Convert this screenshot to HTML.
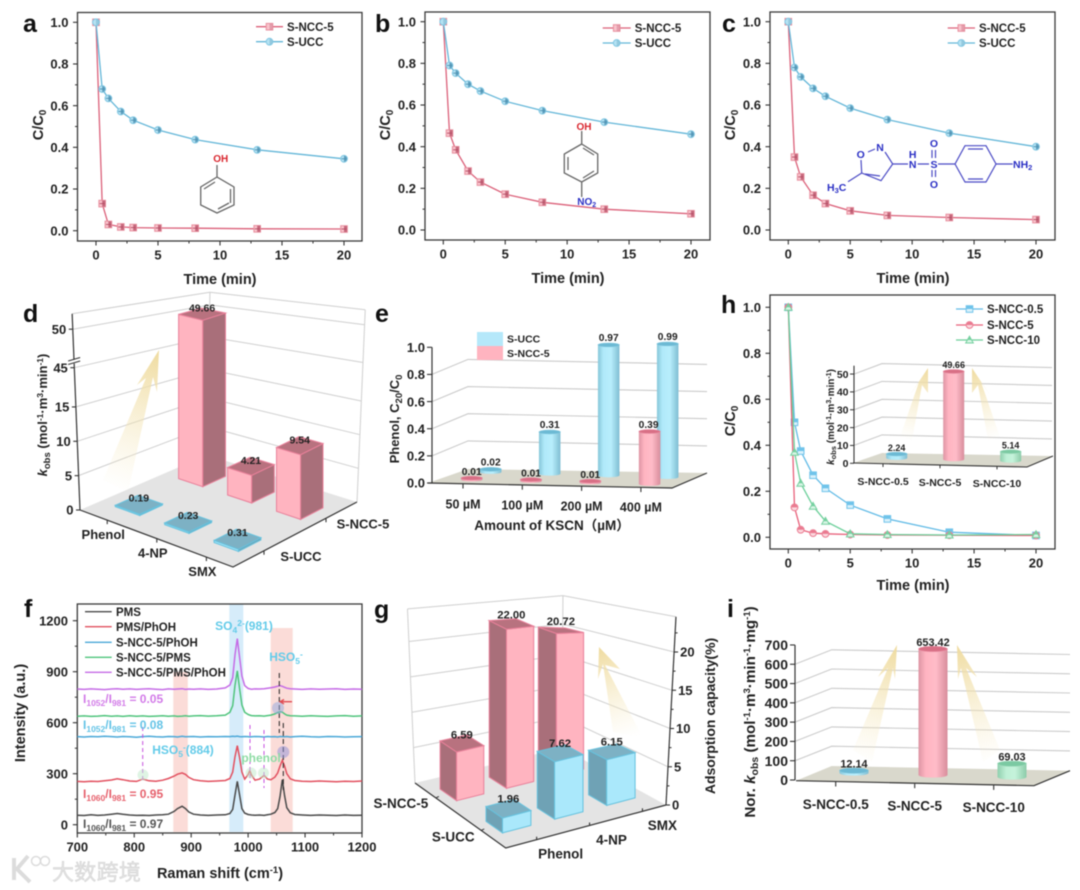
<!DOCTYPE html>
<html lang="en"><head><meta charset="utf-8"><title>Catalytic degradation figure panels a-i</title>
<style>
html,body{margin:0;padding:0;background:#fff;width:1080px;height:890px;overflow:hidden}
svg{display:block;filter:blur(.5px);font-family:"Liberation Sans","Noto Sans CJK SC",sans-serif;font-weight:bold;fill:#222}
</style></head>
<body>
<svg id="figure" xmlns="http://www.w3.org/2000/svg" width="1080" height="890" viewBox="0 0 1080 890">
<defs>
<linearGradient id="gd" gradientUnits="userSpaceOnUse" x1="159" y1="350" x2="112" y2="490"><stop offset="0" stop-color="#efdb9f"/><stop offset="1" stop-color="#f7ecc8" stop-opacity="0"/></linearGradient>
<linearGradient id="gg" gradientUnits="userSpaceOnUse" x1="599" y1="647" x2="630" y2="738"><stop offset="0" stop-color="#efdb9f"/><stop offset="1" stop-color="#f7ecc8" stop-opacity="0"/></linearGradient>
<linearGradient id="gh1" gradientUnits="userSpaceOnUse" x1="928" y1="368" x2="905" y2="440"><stop offset="0" stop-color="#efdb9f"/><stop offset="1" stop-color="#f7ecc8" stop-opacity="0"/></linearGradient>
<linearGradient id="gh2" gradientUnits="userSpaceOnUse" x1="972" y1="368" x2="995" y2="440"><stop offset="0" stop-color="#efdb9f"/><stop offset="1" stop-color="#f7ecc8" stop-opacity="0"/></linearGradient>
<linearGradient id="gi1" gradientUnits="userSpaceOnUse" x1="897" y1="645" x2="862" y2="765"><stop offset="0" stop-color="#efdb9f"/><stop offset="1" stop-color="#f7ecc8" stop-opacity="0"/></linearGradient>
<linearGradient id="gi2" gradientUnits="userSpaceOnUse" x1="957" y1="645" x2="992" y2="765"><stop offset="0" stop-color="#efdb9f"/><stop offset="1" stop-color="#f7ecc8" stop-opacity="0"/></linearGradient>
<linearGradient id="cyl-pink"><stop offset="0" stop-color="#dd95a4"/><stop offset=".25" stop-color="#ffb4c1"/><stop offset=".6" stop-color="#ffbcc8"/><stop offset="1" stop-color="#d88d9c"/></linearGradient>
<linearGradient id="cyl-blue"><stop offset="0" stop-color="#86c6da"/><stop offset=".25" stop-color="#b0e9fa"/><stop offset=".6" stop-color="#b8eefc"/><stop offset="1" stop-color="#7fbdd2"/></linearGradient>
<linearGradient id="cyl-green"><stop offset="0" stop-color="#90cfae"/><stop offset=".3" stop-color="#bff0d6"/><stop offset=".6" stop-color="#c5f3db"/><stop offset="1" stop-color="#8ccba9"/></linearGradient>
</defs>

<g id="under"></g>

<polygon fill="url(#gd)" points="159,350 157,392 153,377 128,492 103,480 146,378 137,385"/>
<polygon fill="url(#gg)" points="599,647 620,669 605,665 643,738 613,732 603,664 598,679"/>
<polygon fill="url(#gh1)" points="928,368 928,393 922,385 912,440 900,437 919,382 910,395"/>
<polygon fill="url(#gh2)" points="972,368 990,395 981,382 1000,437 988,440 978,385 972,393"/>
<polygon fill="url(#gi1)" points="897,645 895,679 893,668 872,762 853,750 888,668 878,677"/>
<polygon fill="url(#gi2)" points="957,645 977,677 966,668 1000,750 983,762 961,668 958,679"/>

<g id="over"></g>

<!-- panel letters -->
<g font-size="25" fill="#111">
<text x="23" y="32">a</text>
<text x="375" y="32">b</text>
<text x="722" y="32">c</text>
<text x="23" y="322">d</text>
<text x="375" y="322">e</text>
<text x="24" y="617">f</text>
<text x="374" y="618">g</text>
<text x="721" y="313">h</text>
<text x="727" y="617">i</text>
</g>

<!-- axis titles -->
<g font-size="14.5" text-anchor="middle" fill="#222">
<text x="220" y="284">Time (min)</text>
<text x="568" y="283">Time (min)</text>
<text x="913" y="283">Time (min)</text>
<text x="913" y="590">Time (min)</text>
<text transform="translate(43 125) rotate(-90)">C/C<tspan font-size="10" dy="3">0</tspan></text>
<text transform="translate(390 125) rotate(-90)">C/C<tspan font-size="10" dy="3">0</tspan></text>
<text transform="translate(735 125) rotate(-90)">C/C<tspan font-size="10" dy="3">0</tspan></text>
<text transform="translate(735 421) rotate(-90)">C/C<tspan font-size="10" dy="3">0</tspan></text>
<text x="220" y="878">Raman shift (cm<tspan font-size="9.5" dy="-5">-1</tspan><tspan dy="5">)</tspan></text>
<text transform="translate(25 713) rotate(-90)">Intensity (a.u.)</text>
<text transform="translate(47 415) rotate(-90)" font-size="13"><tspan font-style="italic">k</tspan><tspan font-size="9.5" dy="3">obs</tspan><tspan dy="-3"> (mol</tspan><tspan font-size="8.5" dy="-4">-1</tspan><tspan dy="4">·m</tspan><tspan font-size="8.5" dy="-4">3</tspan><tspan dy="4">·min</tspan><tspan font-size="8.5" dy="-4">-1</tspan><tspan dy="4">)</tspan></text>
<text transform="translate(399 419) rotate(-90)" font-size="13">Phenol, C<tspan font-size="9.5" dy="3">20</tspan><tspan dy="-3">/C</tspan><tspan font-size="9.5" dy="3">0</tspan></text>
<text x="552" y="530" font-size="13.5">Amount of KSCN（µM）</text>
<text transform="translate(715 716) rotate(-90)" font-size="14">Adsorption capacity(%)</text>
<text transform="translate(755 712) rotate(-90)" font-size="15.2">Nor. <tspan font-style="italic">k</tspan><tspan font-size="10.5" dy="3">obs</tspan><tspan dy="-3"> (mol</tspan><tspan font-size="9.5" dy="-5">-1</tspan><tspan dy="5">·m</tspan><tspan font-size="9.5" dy="-5">3</tspan><tspan dy="5">·min</tspan><tspan font-size="9.5" dy="-5">-1</tspan><tspan dy="5">·mg</tspan><tspan font-size="9.5" dy="-5">-1</tspan><tspan dy="5">)</tspan></text>
<text transform="translate(834 417) rotate(-90)" font-size="10"><tspan font-style="italic">k</tspan><tspan font-size="7.5" dy="2">obs</tspan><tspan dy="-2"> (mol</tspan><tspan font-size="7" dy="-3">-1</tspan><tspan dy="3">·m</tspan><tspan font-size="7" dy="-3">3</tspan><tspan dy="3">·min</tspan><tspan font-size="7" dy="-3">-1</tspan><tspan dy="3">)</tspan></text>
</g>

<!-- panel f annotations -->
<g>
<g stroke-width="1" fill="none">
<line x1="142.7" y1="727" x2="142.7" y2="780" stroke="#c74fe0" stroke-dasharray="4 3"/>
<line x1="250" y1="725" x2="250" y2="783" stroke="#c74fe0" stroke-dasharray="4 3"/>
<line x1="264" y1="730" x2="264" y2="788" stroke="#c74fe0" stroke-dasharray="4 3"/>
<line x1="279.3" y1="673" x2="279.3" y2="733" stroke="#222" stroke-dasharray="5 3"/>
<line x1="283.3" y1="723" x2="283.3" y2="790" stroke="#222" stroke-dasharray="5 3"/>
<path d="M292 701.7H281M284 699.5l-4 2.2 4 2.2" stroke="#e04a52" stroke-width="1.3"/>
</g>
<circle cx="278" cy="708" r="6" fill="#8fa8df" fill-opacity=".5"/>
<circle cx="283.3" cy="752" r="6" fill="#8d90d8" fill-opacity=".5"/>
<circle cx="143" cy="775" r="5.5" fill="#bfe9c9" fill-opacity=".5"/>
<circle cx="251" cy="773" r="5.5" fill="#bfe9c9" fill-opacity=".5"/>
<circle cx="263.5" cy="773" r="5.5" fill="#bfe9c9" fill-opacity=".5"/>
<text x="244" y="630" text-anchor="middle" font-size="12" fill="#63cbe9">SO<tspan font-size="8.5" dy="3">4</tspan><tspan font-size="8.5" dy="-7">2-</tspan><tspan dy="4">(981)</tspan></text>
<text x="286" y="661" text-anchor="middle" font-size="12" fill="#63cbe9">HSO<tspan font-size="8.5" dy="3">5</tspan><tspan font-size="8.5" dy="-7">-</tspan></text>
<text x="183" y="754" text-anchor="middle" font-size="12" fill="#63cbe9">HSO<tspan font-size="8.5" dy="3">5</tspan><tspan font-size="8.5" dy="-7">-</tspan><tspan dy="4">(884)</tspan></text>
<text x="261" y="762" text-anchor="middle" font-size="12" fill="#8fdca5">phenol</text>
<g font-size="12">
<text x="83" y="703" fill="#d27ae8">I<tspan font-size="8.5" dy="3">1052</tspan><tspan dy="-3">/I</tspan><tspan font-size="8.5" dy="3">981</tspan><tspan dy="-3"> = 0.05</tspan></text>
<text x="83" y="729" fill="#63c3e6">I<tspan font-size="8.5" dy="3">1052</tspan><tspan dy="-3">/I</tspan><tspan font-size="8.5" dy="3">981</tspan><tspan dy="-3"> = 0.08</tspan></text>
<text x="83" y="798" fill="#e6606c">I<tspan font-size="8.5" dy="3">1060</tspan><tspan dy="-3">/I</tspan><tspan font-size="8.5" dy="3">981</tspan><tspan dy="-3"> = 0.95</tspan></text>
<text x="83" y="828" fill="#555">I<tspan font-size="8.5" dy="3">1060</tspan><tspan dy="-3">/I</tspan><tspan font-size="8.5" dy="3">981</tspan><tspan dy="-3"> = 0.97</tspan></text>
</g>
</g>

<!-- molecules -->
<g fill="none" stroke="#666" stroke-width="1.3">
<path d="M217 165V177L234 187V205L217 213L200.7 205V187L217 177M230.5 189V203M218 209L229 203M204 189L215 182"/>
<text x="220.7" y="162" text-anchor="middle" font-size="10" fill="#d9262e" stroke="none">OH</text>
</g>
<g fill="none" stroke="#666" stroke-width="1.3">
<path d="M581.7 131V144L597.7 154V173L581.7 182L564.3 173V154L581.7 144M568 157V170M583 148L594 155M583 178L594 171M581.7 182V197"/>
<text x="584" y="130" text-anchor="middle" font-size="10" fill="#d9262e" stroke="none">OH</text>
<text x="586.7" y="205" text-anchor="middle" font-size="10" fill="#2a2fc4" stroke="none">NO<tspan font-size="7" dy="2">2</tspan></text>
</g>
<g fill="none" stroke="#4a4ac4" stroke-width="1.2">
<path d="M861 160L861.7 173L881 180.7L892.7 164L885 152M865 174L880 176M848 181.7L861.7 173M892.7 164H908M917.7 164H929M938 164H955L965 145.7H986L996 164L986 182H965L955 164M968 149H983M968 179H983M996 164H1012.7M932 150V158M935.5 150V158M932 170V177M935.5 170V177M868 152L875 149"/>
<g font-size="10.5" fill="#2a2fc4" stroke="none">
<text x="860.7" y="158" text-anchor="middle">O</text>
<text x="880" y="151" text-anchor="middle">N</text>
<text x="912.7" y="158" text-anchor="middle">H</text>
<text x="912.7" y="168" text-anchor="middle">N</text>
<text x="934" y="168" text-anchor="middle">S</text>
<text x="934" y="147" text-anchor="middle">O</text>
<text x="934" y="188" text-anchor="middle">O</text>
<text x="1013" y="168">NH<tspan font-size="7.5" dy="2">2</tspan></text>
<text x="827" y="191">H<tspan font-size="7.5" dy="2">3</tspan><tspan dy="-2">C</tspan></text>
</g>
</g>

<!-- watermark -->
<g>
<path d="M14 858V880M28 856L17 869L30 882" fill="none" stroke="#dcdcdc" stroke-width="4"/>
<circle cx="36" cy="861" r="4.5" fill="none" stroke="#dcdcdc" stroke-width="1.5"/>
<circle cx="45" cy="861" r="4.5" fill="none" stroke="#dcdcdc" stroke-width="1.5"/>
<text x="52" y="880" font-size="22" font-weight="normal" fill="#e2e2e2" letter-spacing=".3" stroke="#cfcfcf" stroke-width=".4">大数跨境</text>
</g>

<script>
/* ---------- time-course data (panels a, b, c, h) ---------- */
const timeMin = [0, 0.5, 1, 2, 3, 5, 8, 13, 20];
const timeTicks = [0, 5, 10, 15, 20];
const ratioTicks = [0, 0.2, 0.4, 0.6, 0.8, 1];
const aNcc5 = [1, 0.13, 0.03, 0.018, 0.015, 0.013, 0.012, 0.009, 0.008];
const aUcc = [1, 0.68, 0.635, 0.572, 0.53, 0.483, 0.437, 0.388, 0.345];
const bNcc5 = [1, 0.465, 0.385, 0.283, 0.23, 0.172, 0.133, 0.1, 0.078];
const bUcc = [1, 0.79, 0.753, 0.7, 0.667, 0.618, 0.573, 0.518, 0.46];
const cNcc5 = [1, 0.35, 0.255, 0.167, 0.127, 0.092, 0.07, 0.06, 0.05];
const cUcc = [1, 0.78, 0.735, 0.68, 0.642, 0.585, 0.53, 0.465, 0.4];
const hNcc05 = [1, 0.5, 0.375, 0.27, 0.213, 0.14, 0.08, 0.022, 0.008];
const hNcc5 = [1, 0.13, 0.033, 0.018, 0.015, 0.012, 0.01, 0.009, 0.008];
const hNcc10 = [1, 0.37, 0.235, 0.135, 0.07, 0.015, 0.012, 0.01, 0.012];

/* ---------- Raman data (panel f) ---------- */
const ramanShift = [700,712,724,736,748,760,770,780,792,804,815,826,838,850,860,870,876,884,890,896,904,916,930,945,960,968,973,977,981,985,989,994,1000,1003,1006,1012,1020,1028,1034,1040,1047,1052,1056,1060,1064,1068,1074,1082,1095,1110,1125,1140,1155,1170,1185,1200];
const ramanPms = [56,54,58,55,57,62,66,61,57,55,56,54,57,58,62,78,95,108,95,75,62,57,55,57,58,66,90,175,255,175,95,68,60,58,57,56,57,55,58,62,72,95,165,265,170,100,70,60,57,55,57,56,54,57,55,56];
const ramanPmsPhoh = [255,253,256,254,258,263,270,265,257,255,268,258,256,262,272,286,297,305,296,278,265,258,255,257,260,272,310,400,465,395,310,268,295,318,292,262,268,290,268,265,280,305,345,378,345,300,270,260,256,254,257,255,253,256,254,257];
const ramanNccPhoh = [518,516,519,517,520,518,516,519,517,515,518,520,517,516,519,518,516,520,517,518,519,516,518,517,519,518,520,519,521,518,517,519,518,516,517,519,518,516,519,517,518,516,519,518,517,519,516,518,520,517,516,519,518,516,517,518];
const ramanNccPms = [638,640,637,639,642,638,640,637,641,638,640,637,639,641,638,640,637,639,641,638,640,642,639,641,645,662,700,820,905,800,705,662,648,645,642,640,641,639,642,645,652,660,665,662,652,645,641,640,638,641,639,637,640,642,638,640];
const ramanNccPmsPhoh = [798,796,799,797,795,798,800,797,799,796,798,800,797,795,799,797,798,800,796,798,797,799,796,798,805,822,865,1000,1095,985,875,818,802,799,797,799,798,800,803,806,810,815,818,814,808,803,800,798,796,799,797,798,800,796,798,797];
const ramanXTicks = [700, 800, 900, 1000, 1100, 1200];
const ramanYTicks = [0, 300, 600, 900, 1200];

/* ---------- 3D bars ---------- */
const dCategories = ['Phenol', '4-NP', 'SMX'];
const dSeries = ['S-UCC', 'S-NCC-5'];
const dUcc = [0.19, 0.23, 0.31];
const dNcc5 = [49.66, 4.21, 9.54];
const dTicks = [0, 5, 10, 15, 45, 50];

const gCategories = ['Phenol', '4-NP', 'SMX'];
const gUcc = [1.96, 7.62, 6.15];
const gNcc5 = [6.59, 22.0, 20.72];
const gTicks = [0, 5, 10, 15, 20];

const eCategories = ['50 µM', '100 µM', '200 µM', '400 µM'];
const eUcc = [0.02, 0.31, 0.97, 0.99];
const eNcc5 = [0.01, 0.01, 0.01, 0.39];
const eTicks = [0, 0.2, 0.4, 0.6, 0.8, 1];

const insetCategories = ['S-NCC-0.5', 'S-NCC-5', 'S-NCC-10'];
const insetValues = [2.24, 49.66, 5.14];
const insetTicks = [0, 10, 20, 30, 40, 50];

const iCategories = ['S-NCC-0.5', 'S-NCC-5', 'S-NCC-10'];
const iValues = [12.14, 653.42, 69.03];
const iTicks = [0, 100, 200, 300, 400, 500, 600, 700];

/* ---------- helpers ---------- */
const NS = 'http://www.w3.org/2000/svg';
const under = document.getElementById('under');
const over = document.getElementById('over');
function mk(tag, attrs, name, parent) {
  const el = document.createElementNS(NS, tag);
  for (const k in attrs) el.setAttribute(k, attrs[k]);
  
  
  parent.appendChild(el);
  return el;
}
function txt(x, y, s, size, anchor, name, parent, fill) {
  const el = mk('text', {x: x, y: y + size * 0.36, 'font-size': size, 'text-anchor': anchor, fill: fill || '#222'}, name, parent);
  el.textContent = s;
  return el;
}
function line(x1, y1, x2, y2, stroke, w, name, parent) {
  return mk('line', {x1, y1, x2, y2, stroke, 'stroke-width': w}, name, parent);
}
const pts = a => a.map(p => p[0].toFixed(1) + ',' + p[1].toFixed(1)).join(' ');

/* ---------- markers ---------- */
const PINK = {line: '#db6079', pale: '#f9c3cc', edge: '#e8909f', dark: '#b34a62'};
const BLUE = {line: '#63b6d8', pale: '#b5e2f3', edge: '#82c8e3', dark: '#4a8fb0'};
const LBLUE = {line: '#62bbe6', pale: '#d9f1fb', edge: '#6fc3ea', dark: '#6fc3ea'};
const RED = {line: '#e8607a', pale: '#fbd8de', edge: '#ea7a90', dark: '#ea7a90'};
const GREEN = {line: '#6ccf9a', pale: '#d8f5e5', edge: '#76d0a0', dark: '#76d0a0'};

function marker(kind, x, y, pal, g, style, i) {
  if (kind === 'square') {
    mk('rect', {x: x - 3.3, y: y - 3.3, width: 6.6, height: 6.6, fill: pal.pale, stroke: pal.edge, 'stroke-width': 1}, 'square-marker', g);
    if (style === 'half') {
      mk('rect', {x: x, y: y - 3, width: 3, height: 6, fill: pal.dark, 'fill-opacity': i === 0 ? 0.3 : 0.75}, 'square-marker-half', g);
      if (i > 0) line(x - 2.5, y, x + 2.5, y, pal.dark, 0.9, 'error-bar', g);
    } else {
      mk('rect', {x: x - 3, y: y - 3, width: 6, height: 3, fill: pal.dark}, 'square-marker-half', g);
    }
  } else if (kind === 'circle') {
    mk('circle', {cx: x, cy: y, r: 3.4, fill: pal.pale, stroke: pal.edge, 'stroke-width': 1}, 'circle-marker', g);
    if (style === 'half') {
      mk('path', {d: `M${x} ${y - 3}A3 3 0 0 1 ${x} ${y + 3}Z`, fill: pal.dark, 'fill-opacity': i === 0 ? 0.3 : 0.8}, 'circle-marker-half', g);
      if (i > 0) line(x - 2.5, y, x + 2.5, y, pal.dark, 0.9, 'error-bar', g);
    } else {
      mk('path', {d: `M${x - 3} ${y}A3 3 0 0 1 ${x + 3} ${y}Z`, fill: pal.dark}, 'circle-marker-half', g);
    }
  } else {
    mk('polygon', {points: `${x},${y - 3.8} ${x + 3.8},${y + 3} ${x - 3.8},${y + 3}`, fill: pal.pale, stroke: pal.edge, 'stroke-width': 1}, 'triangle-marker', g);
    mk('polygon', {points: `${x},${y - 3.2} ${x + 1.9},${y} ${x - 1.9},${y}`, fill: pal.dark}, 'triangle-marker-top', g);
  }
}

/* ---------- 2D time panels ---------- */
function timePanel(id, box, series, legend) {
  const g = mk('g', {}, id + '-chart', under);
  const xS = v => box.x0 + (box.x20 - box.x0) * v / 20;
  const yS = v => box.y0 + (box.y1 - box.y0) * v;
  mk('rect', {x: box.l, y: box.t, width: box.r - box.l, height: box.b - box.t, fill: 'none', stroke: '#3a3a3a', 'stroke-width': 1.3}, id + '-frame', g);
  timeTicks.forEach((t, i) => {
    line(xS(t), box.b, xS(t), box.b + 4.5, '#333', 1.1, id + '-x-tick', g);
    if (i < timeTicks.length - 1) line(xS(t + 2.5), box.b, xS(t + 2.5), box.b + 2.5, '#333', 1, id + '-x-minor-tick', g);
    txt(xS(t), box.b + 14, String(t), 13, 'middle', id + '-x-tick-label', g);
  });
  ratioTicks.forEach((t, i) => {
    line(box.l - 4.5, yS(t), box.l, yS(t), '#333', 1.1, id + '-y-tick', g);
    if (i < ratioTicks.length - 1) line(box.l - 2.5, yS(t + 0.1), box.l, yS(t + 0.1), '#333', 1, id + '-y-minor-tick', g);
    txt(box.l - 9, yS(t), t.toFixed(1), 13, 'end', id + '-y-tick-label', g);
  });
  series.forEach(s => {
    const sg = mk('g', {}, id + '-series-' + s.name, g);
    mk('polyline', {points: pts(timeMin.map((t, i) => [xS(t), yS(s.values[i])])), fill: 'none', stroke: s.pal.line, 'stroke-width': 1.3}, id + '-line-' + s.name, sg);
    timeMin.forEach((t, i) => marker(s.kind, xS(t), yS(s.values[i]), s.pal, sg, s.style, i));
  });
  series.forEach((s, i) => {
    const ly = legend.ys[i];
    const lg = mk('g', {}, id + '-legend-entry-' + s.name, g);
    line(legend.x1, ly, legend.x2, ly, s.pal.line, 1.3, 'legend-line', lg);
    marker(s.kind, (legend.x1 + legend.x2) / 2, ly, s.pal, lg, s.style, 0);
    txt(legend.x2 + 4, ly, s.name, 11.5, 'start', 'legend-label', lg);
  });
}

timePanel('panel-a', {l: 77.5, r: 362, t: 12.5, b: 241, x0: 96, x20: 344, y0: 230.7, y1: 22.3},
  [{name: 'S-NCC-5', values: aNcc5, pal: PINK, kind: 'square', style: 'half'},
   {name: 'S-UCC', values: aUcc, pal: BLUE, kind: 'circle', style: 'half'}],
  {x1: 256, x2: 283, ys: [26.7, 41.7]});
timePanel('panel-b', {l: 425, r: 710, t: 12, b: 240, x0: 443.3, x20: 691, y0: 230, y1: 21.7},
  [{name: 'S-NCC-5', values: bNcc5, pal: PINK, kind: 'square', style: 'half'},
   {name: 'S-UCC', values: bUcc, pal: BLUE, kind: 'circle', style: 'half'}],
  {x1: 602.7, x2: 630.7, ys: [28, 43]});
timePanel('panel-c', {l: 770, r: 1055, t: 12, b: 240, x0: 788.3, x20: 1036, y0: 230, y1: 21.7},
  [{name: 'S-NCC-5', values: cNcc5, pal: PINK, kind: 'square', style: 'half'},
   {name: 'S-UCC', values: cUcc, pal: BLUE, kind: 'circle', style: 'half'}],
  {x1: 947.7, x2: 975, ys: [28, 43]});
timePanel('panel-h', {l: 770, r: 1055, t: 295, b: 549, x0: 788.3, x20: 1036, y0: 537.3, y1: 307.3},
  [{name: 'S-NCC-0.5', values: hNcc05, pal: LBLUE, kind: 'square', style: 'lower'},
   {name: 'S-NCC-5', values: hNcc5, pal: RED, kind: 'circle', style: 'lower'},
   {name: 'S-NCC-10', values: hNcc10, pal: GREEN, kind: 'triangle', style: 'lower'}],
  {x1: 956, x2: 983, ys: [309, 325, 340]});

/* ---------- panel f ---------- */
(function () {
  const g = mk('g', {}, 'panel-f-chart', under);
  const xS = v => 77.3 + (v - 700) * 0.5694;
  const yS = v => 824.7 - v * 0.17;
  mk('rect', {x: 173.3, y: 672, width: 14.5, height: 160, fill: '#fbdcd8'}, 'band-hso5-884', g);
  mk('rect', {x: 229.3, y: 604, width: 14, height: 228, fill: '#d6ecfa'}, 'band-so4-981', g);
  mk('rect', {x: 270.7, y: 628, width: 22, height: 204, fill: '#fbdcd8'}, 'band-hso5-1060', g);
  mk('rect', {x: 77.3, y: 604, width: 284.7, height: 229, fill: 'none', stroke: '#3a3a3a', 'stroke-width': 1.3}, 'panel-f-frame', g);
  ramanXTicks.forEach((t, i) => {
    line(xS(t), 833, xS(t), 837.5, '#333', 1.1, 'panel-f-x-tick', g);
    if (i < ramanXTicks.length - 1) line(xS(t + 50), 833, xS(t + 50), 835.5, '#333', 1, 'panel-f-x-minor-tick', g);
    txt(xS(t), 847, String(t), 13, 'middle', 'panel-f-x-tick-label', g);
  });
  ramanYTicks.forEach((t, i) => {
    line(72.8, yS(t), 77.3, yS(t), '#333', 1.1, 'panel-f-y-tick', g);
    if (i < ramanYTicks.length - 1) line(74.8, yS(t + 150), 77.3, yS(t + 150), '#333', 1, 'panel-f-y-minor-tick', g);
    txt(68, yS(t), String(t), 13, 'end', 'panel-f-y-tick-label', g);
  });
  const specs = [
    ['PMS', ramanPms, '#4a4a4a', 611.7],
    ['PMS/PhOH', ramanPmsPhoh, '#e2505f', 626.7],
    ['S-NCC-5/PhOH', ramanNccPhoh, '#4aa8d8', 642.3],
    ['S-NCC-5/PMS', ramanNccPms, '#4fc47c', 657.3],
    ['S-NCC-5/PMS/PhOH', ramanNccPmsPhoh, '#c56be6', 672.3]
  ];
  specs.forEach(s => {
    mk('polyline', {points: pts(ramanShift.map((x, i) => [xS(x), yS(s[1][i])])), fill: 'none', stroke: s[2], 'stroke-width': 1.5}, 'spectrum-' + s[0], g);
    const lg = mk('g', {}, 'panel-f-legend-entry-' + s[0], g);
    line(85, s[3], 111.7, s[3], s[2], 1.3, 'legend-line', lg);
    txt(116, s[3], s[0], 11.5, 'start', 'legend-label', lg);
  });
})();

/* ---------- 3D box panels ---------- */
function makeProjection(c00, cU, cV, cUV, kFn, zFn) {
  return function (u, v, z) {
    const a = (1 - u) * (1 - v), b = u * (1 - v), c = (1 - u) * v, d = u * v;
    const x = a * c00[0] + b * cU[0] + c * cV[0] + d * cUV[0];
    const y = a * c00[1] + b * cU[1] + c * cV[1] + d * cUV[1];
    return [x, y - zFn(z) * kFn(u, v)];
  };
}
function box(proj, u, v, val, hu, hv, order, lightFirst, pal, name, parent, labelDy, labelSize) {
  const g = mk('g', {}, name, parent);
  const base = order.map(s => proj(u + s[0] * hu, v + s[1] * hv, 0));
  const top = order.map(s => proj(u + s[0] * hu, v + s[1] * hv, val));
  const face1 = [base[0], base[1], top[1], top[0]];
  const face2 = [base[1], base[2], top[2], top[1]];
  mk('polygon', {points: pts(face1), fill: lightFirst ? pal.light : pal.dark, stroke: pal.edge, 'stroke-width': 1}, name + '-left-face', g);
  mk('polygon', {points: pts(face2), fill: lightFirst ? pal.dark : pal.light, stroke: pal.edge, 'stroke-width': 1}, name + '-right-face', g);
  mk('polygon', {points: pts(top), fill: pal.top, stroke: pal.edge, 'stroke-width': 1}, name + '-top-face', g);
  const c = proj(u, v, val);
  txt(c[0], c[1] + labelDy, val.toFixed(2), labelSize, 'middle', name + '-value', g, '#222');
}
const PINKBOX = {light: '#ffb4c0', dark: '#a96f7a', top: '#b8727f', edge: '#e9809a'};
const BLUEBOX = {light: '#aae8fb', dark: '#6fa2b5', top: '#7db1c4', edge: '#66c2de'};

/* panel d */
const dL = [80, 510], dB = [233, 567], dR = [357, 502], dBk = [207, 455];
const dZ = v => (v <= 18 ? v * 6.87 : 142.3 + (v - 45) * 7.7);
const dK = (u, v) => 1 - v * (0.13 - 0.12 * u);
const dP = makeProjection(dL, dB, dBk, dR, dK, dZ);
const dU = i => 0.178 + 0.324 * i;
const dV = j => 0.25 + 0.5 * j;
(function () {
  const g = mk('g', {}, 'panel-d-axes', under);
  const ZT = 52;
  const lft = h => [dL[0] - 0.04 * h, dL[1] - h];
  const bck = h => [dBk[0] + 0.015 * h, dBk[1] - h * 0.83];
  const rgt = h => [dR[0] + 0.042 * h, dR[1] - h * 0.98];
  mk('polygon', {points: pts([dL, dB, dR, dBk]), fill: '#e4e4e4'}, 'panel-d-floor', g);
  dTicks.concat([ZT]).forEach(t => {
    if (t === 0) return;
    const h = dZ(t);
    mk('polyline', {points: pts([lft(h), bck(h), rgt(h)]), fill: 'none', stroke: '#cfcfcf', 'stroke-width': 1}, 'panel-d-gridline', g);
  });
  line(bck(dZ(ZT))[0], bck(dZ(ZT))[1], dBk[0], dBk[1], '#cfcfcf', 1, 'panel-d-back-edge', g);
  line(rgt(dZ(ZT))[0], rgt(dZ(ZT))[1], dR[0], dR[1], '#cfcfcf', 1, 'panel-d-right-edge', g);
  const top = lft(dZ(ZT));
  line(dL[0], dL[1], top[0], top[1], '#333', 1.2, 'panel-d-z-axis', g);
  dTicks.forEach(t => {
    const p = lft(dZ(t));
    line(p[0] - 4, p[1], p[0], p[1], '#333', 1.1, 'panel-d-z-tick', g);
    txt(p[0] - 6.5, p[1], String(t), 13, 'end', 'panel-d-z-tick-label', g);
  });
  const bk = lft(146);
  mk('rect', {x: bk[0] - 7, y: bk[1] - 4, width: 14, height: 3.5, fill: '#fff', transform: `rotate(-18 ${bk[0]} ${bk[1]})`}, 'panel-d-axis-break-gap', g);
  line(bk[0] - 6, bk[1] + 0.5, bk[0] + 6, bk[1] - 3, '#333', 1, 'panel-d-axis-break-lower', g);
  line(bk[0] - 6, bk[1] - 3, bk[0] + 6, bk[1] - 6.5, '#333', 1, 'panel-d-axis-break-upper', g);
  mk('polyline', {points: pts([dL, dB, dR]), fill: 'none', stroke: '#333', 'stroke-width': 1.2}, 'panel-d-floor-edges', g);
  dCategories.forEach((c, i) => {
    const p = dP(dU(i), 0, 0);
    line(p[0], p[1], p[0], p[1] + 4, '#333', 1.1, 'panel-d-category-tick', g);
    txt(p[0] - 4, p[1] + 14, c, 13, 'middle', 'panel-d-category-label', g);
  });
  dSeries.forEach((s, j) => {
    const a = dB, b = dR, f = dV(j);
    const x = a[0] + (b[0] - a[0]) * f, y = a[1] + (b[1] - a[1]) * f;
    line(x, y, x, y + 4, '#333', 1.1, 'panel-d-series-tick', g);
    txt(x + 37, y + 5.5, s, 13, 'middle', 'panel-d-series-label', g);
  });
})();
dNcc5.forEach((v, i) => box(dP, dU(i), dV(1), v, 0.08, 0.09, [[-1,-1],[1,-1],[1,1],[-1,1]], true, PINKBOX, 'panel-d-bar-s-ncc-5-' + dCategories[i], over, -6, 10.5));
dUcc.forEach((v, i) => box(dP, dU(i), dV(0), v, 0.08, 0.09, [[-1,-1],[1,-1],[1,1],[-1,1]], true, BLUEBOX, 'panel-d-bar-s-ucc-' + dCategories[i], over, -7, 10.5));

/* panel g */
const gL = [415, 783], gB = [505.7, 848], gR = [666, 805], gBk = [562, 748];
const gZ = v => v * 7.65;
const gK = (u, w) => 1 - w * (0.05 + 0.18 * u * u);
const gP = makeProjection(gB, gR, gL, gBk, gK, gZ);
const gU = i => 0.173 + 0.33 * i;
const gV = j => 0.27 + 0.5 * j;
(function () {
  const g = mk('g', {}, 'panel-g-axes', under);
  const zTop = 24.6;
  const lft = h => [gL[0] - 0.04 * h, gL[1] - h * 0.925];
  const bck = h => [gBk[0] + 0.005 * h, gBk[1] - h * 0.81];
  const rgt = h => [gR[0] + 0.053 * h, gR[1] - h];
  mk('polygon', {points: pts([gL, gB, gR, gBk]), fill: '#e4e4e4'}, 'panel-g-floor', g);
  gTicks.concat([zTop]).forEach(t => {
    if (t === 0) return;
    const h = gZ(t);
    mk('polyline', {points: pts([lft(h), bck(h), rgt(h)]), fill: 'none', stroke: '#cfcfcf', 'stroke-width': 1}, 'panel-g-gridline', g);
  });
  const H = gZ(zTop);
  line(lft(H)[0], lft(H)[1], gL[0], gL[1], '#cfcfcf', 1, 'panel-g-left-edge', g);
  line(bck(H)[0], bck(H)[1], gBk[0], gBk[1], '#cfcfcf', 1, 'panel-g-back-edge', g);
  line(gR[0], gR[1], rgt(H)[0], rgt(H)[1], '#333', 1.2, 'panel-g-z-axis', g);
  gTicks.forEach(t => {
    const p = rgt(gZ(t));
    line(p[0], p[1], p[0] + 4, p[1], '#333', 1.1, 'panel-g-z-tick', g);
    line(rgt(gZ(t + 2.5))[0], rgt(gZ(t + 2.5))[1], rgt(gZ(t + 2.5))[0] + 2.5, rgt(gZ(t + 2.5))[1], '#333', 1, 'panel-g-z-minor-tick', g);
    txt(p[0] + 6, p[1], String(t), 13, 'start', 'panel-g-z-tick-label', g);
  });
  mk('polyline', {points: pts([gL, gB, gR]), fill: 'none', stroke: '#333', 'stroke-width': 1.2}, 'panel-g-floor-edges', g);
  gCategories.forEach((c, i) => {
    const f = gU(i) + 0.02, x = gB[0] + (gR[0] - gB[0]) * f, y = gB[1] + (gR[1] - gB[1]) * f;
    line(x, y, x, y - 3, '#333', 1.1, 'panel-g-category-tick', g);
    txt(x + 24 - 2 * i, y + 14, c, 13.5, 'middle', 'panel-g-category-label', g);
  });
  dSeries.forEach((s, j) => {
    const f = gV(j), x = gB[0] + (gL[0] - gB[0]) * f, y = gB[1] + (gL[1] - gB[1]) * f;
    txt(x + (j ? -35 : -28), y + (j ? 5 : 6), s, 13.5, 'middle', 'panel-g-series-label', g);
    line(x, y, x + 3, y - 1.5, '#333', 1, 'panel-g-series-tick', g);
  });
})();
const gOrder = [[-1,1],[-1,-1],[1,-1],[1,1]];
gNcc5.forEach((v, i) => box(gP, gU(i), gV(1), v, 0.09, 0.09, gOrder, false, PINKBOX, 'panel-g-bar-s-ncc-5-' + gCategories[i], over, -9, 11.3));
gUcc.forEach((v, i) => box(gP, gU(i), gV(0), v, 0.09, 0.09, gOrder, false, BLUEBOX, 'panel-g-bar-s-ucc-' + gCategories[i], over, -10, 11.3));

/* ---------- cylinders ---------- */
const CYL = {
  pink: {fill: 'url(#cyl-pink)', top: '#d86f85', edge: '#e88aa0'},
  blue: {fill: 'url(#cyl-blue)', top: '#6cb9d4', edge: '#7fc6dc'},
  green: {fill: 'url(#cyl-green)', top: '#7bc9a2', edge: '#9bd9b9'}
};
function cylinder(cx, base, w, h, kind, name, parent) {
  const g = mk('g', {}, name, parent);
  const pal = CYL[kind], ry = w * 0.09, l = cx - w / 2, r = cx + w / 2, t = base - h;
  mk('path', {d: `M${l} ${t}L${l} ${base}A${w / 2} ${ry} 0 0 0 ${r} ${base}L${r} ${t}Z`, fill: pal.fill}, name + '-body', g);
  mk('ellipse', {cx: cx, cy: t, rx: w / 2, ry: ry, fill: pal.top, stroke: pal.edge, 'stroke-width': .6}, name + '-cap', g);
  return t;
}
function slantGrid(g, prefix, ticks, yOf, ax, backX, backDy, rightX, rightDy, skip) {
  ticks.forEach(t => {
    if (skip.indexOf(t) >= 0) return;
    const y = yOf(t);
    mk('polyline', {points: pts([[ax, y], [backX, y + backDy], [rightX, y + backDy + rightDy]]), fill: 'none', stroke: '#cbcbcb', 'stroke-width': 1.1}, prefix + '-gridline', g);
  });
}

/* panel e */
const eY = v => 483 - v * 135.7;
const ePinkX = i => 471.7 + 59.3 * i;
const eBlueX = i => 490.7 + 59 * i;
(function () {
  const g = mk('g', {}, 'panel-e-axes', under);
  mk('polygon', {points: '428,483 672,488 707,473 468,469', fill: '#d9d8cc'}, 'panel-e-floor', g);
  slantGrid(g, 'panel-e', eTicks, eY, 432, 468, -15, 707, 5, [0, 1]);
  line(432, eY(1), 432, eY(0), '#333', 1.2, 'panel-e-y-axis', g);
  eTicks.forEach(t => {
    line(427, eY(t), 432, eY(t), '#333', 1.1, 'panel-e-y-tick', g);
    txt(425, eY(t), t.toFixed(1), 13, 'end', 'panel-e-y-tick-label', g);
  });
  mk('polyline', {points: '428,483 672,488 707,473', fill: 'none', stroke: '#333', 'stroke-width': 1.2}, 'panel-e-floor-edge', g);
  eCategories.forEach((c, i) => {
    const x = 463 + 59.3 * i, y = 484 + 1.2 * i;
    line(x, y, x, y + 4.5, '#333', 1.1, 'panel-e-x-tick', g);
    txt(x, 504 + i, c, 12.5, 'middle', 'panel-e-x-tick-label', g);
  });
  mk('rect', {x: 477, y: 332, width: 26, height: 14, fill: '#b5e8fa'}, 'panel-e-legend-swatch-s-ucc', g);
  mk('rect', {x: 477, y: 346, width: 26, height: 14, fill: '#ffb4c0'}, 'panel-e-legend-swatch-s-ncc-5', g);
  txt(507, 338.5, 'S-UCC', 10.5, 'start', 'panel-e-legend-label-s-ucc', g);
  txt(507, 353, 'S-NCC-5', 10.5, 'start', 'panel-e-legend-label-s-ncc-5', g);
})();
eUcc.forEach((v, i) => {
  const name = 'panel-e-bar-s-ucc-' + i;
  const t = cylinder(eBlueX(i), 472 + 1.7 * i, 21.5, v * 134.5, 'blue', name, over);
  txt(eBlueX(i), t - 7.5, v.toFixed(2), 10.2, 'middle', name + '-value', over);
});
eNcc5.forEach((v, i) => {
  const name = 'panel-e-bar-s-ncc-5-' + i;
  const t = cylinder(ePinkX(i), 479.5 + 1.5 * i, 21.5, v * 134.5, 'pink', name, over);
  txt(ePinkX(i) - (i === 3 ? 1 : 0), t - 7, v.toFixed(2), 10.2, 'middle', name + '-value', over);
});

/* inset of panel h */
const hY = v => 463.3 - v * 1.785;
(function () {
  const g = mk('g', {}, 'panel-h-inset-axes', under);
  mk('polygon', {points: '853,463 1027,467 1053,456 882,453', fill: '#d9d8cc'}, 'inset-floor', g);
  slantGrid(g, 'inset', insetTicks, hY, 854, 882, -10.5, 1052, 4, [0]);
  line(854, 365.7, 854, 463.3, '#333', 1.1, 'inset-y-axis', g);
  insetTicks.forEach(t => {
    line(850, hY(t), 854, hY(t), '#333', 1, 'inset-y-tick', g);
    txt(848.5, hY(t), String(t), 10.5, 'end', 'inset-y-tick-label', g);
  });
  mk('polyline', {points: '853,463 1027,467 1053,456', fill: 'none', stroke: '#333', 'stroke-width': 1.1}, 'inset-floor-edge', g);
  insetCategories.forEach((c, i) => {
    const x = 883 + 57 * i, y = 464 + 1.2 * i;
    line(x, y, x, y + 3, '#333', 1, 'inset-x-tick', g);
    txt(x, 481 + i, c, 10.5, 'middle', 'inset-x-tick-label', g);
  });
})();
insetValues.forEach((v, i) => {
  const name = 'inset-bar-' + insetCategories[i];
  const cx = 896.7 + 57 * i;
  const kind = ['blue', 'pink', 'green'][i];
  const t = cylinder(cx, 458 + 1.4 * i, 21, v * 1.77, kind, name, over);
  txt(cx, t - 6.5, v.toFixed(2), 9, 'middle', name + '-value', over);
});

/* panel i */
const iY = v => 780 - v * 0.1929;
(function () {
  const g = mk('g', {}, 'panel-i-axes', under);
  mk('polygon', {points: '796,780.7 1034,785.7 1070,770.7 831.7,766', fill: '#d9d8cc'}, 'panel-i-floor', g);
  slantGrid(g, 'panel-i', iTicks, iY, 795, 831.7, -14.5, 1070, 4.7, [0, 700]);
  line(795, iY(700), 795, iY(0), '#333', 1.2, 'panel-i-y-axis', g);
  iTicks.forEach(t => {
    line(790, iY(t), 795, iY(t), '#333', 1.1, 'panel-i-y-tick', g);
    txt(788, iY(t), String(t), 14, 'end', 'panel-i-y-tick-label', g);
  });
  mk('polyline', {points: '796,780.7 1034,785.7 1070,770.7', fill: 'none', stroke: '#333', 'stroke-width': 1.2}, 'panel-i-floor-edge', g);
  iCategories.forEach((c, i) => {
    const x = 835.7 + 79 * i, y = 782 + 1.7 * i;
    line(x, y, x, y + 4.5, '#333', 1.1, 'panel-i-x-tick', g);
    txt(x, 804 + 1.5 * i, c, 13.5, 'middle', 'panel-i-x-tick-label', g);
  });
})();
iValues.forEach((v, i) => {
  const name = 'panel-i-bar-' + iCategories[i];
  const cx = 854 + 79 * i;
  const kind = ['blue', 'pink', 'green'][i];
  const t = cylinder(cx, 773 + 2 * i, 29, v * 0.1929, kind, name, over);
  txt(cx, t - 7, v.toFixed(2), 10.9, 'middle', name + '-value', over);
});
</script>
</svg>
</body></html>
